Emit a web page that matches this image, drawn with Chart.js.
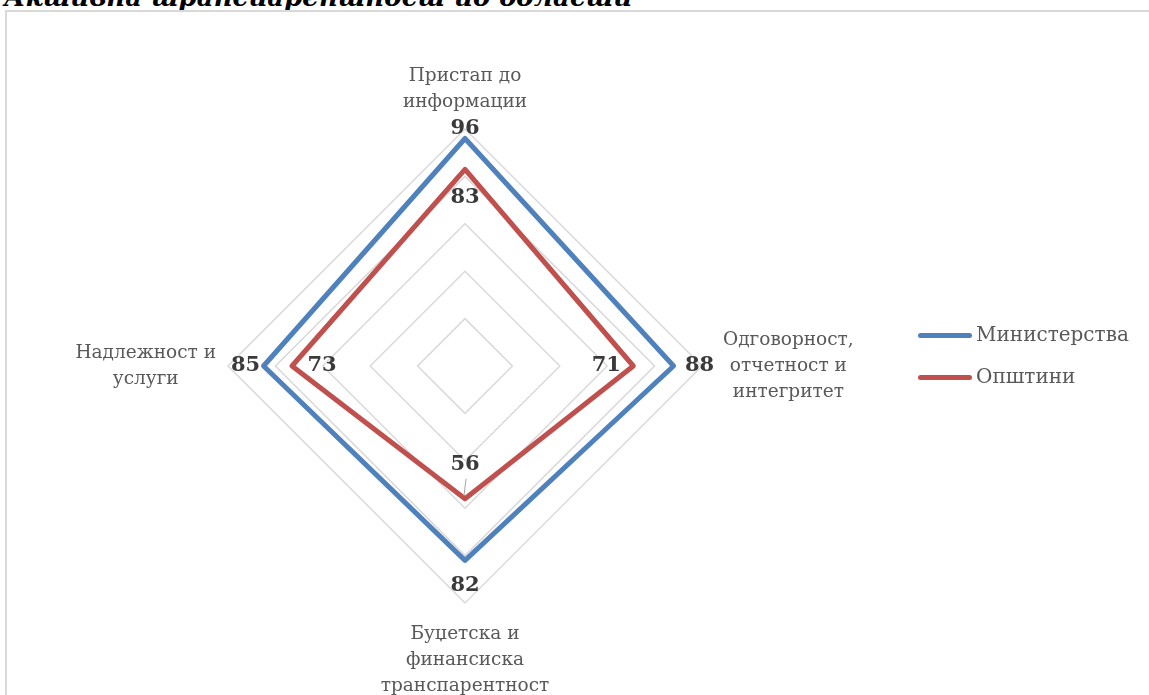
<!DOCTYPE html>
<html lang="mk">
<head>
  <meta charset="UTF-8">
  <title>Активна транспарентност по области</title>
  <script src="https://cdn.jsdelivr.net/npm/chart.js"></script>
  <style>
    body { margin: 0; background: #fff; overflow: hidden; }
    #wrap { position: relative; width: 1149px; height: 695px; }
    #title { position: absolute; left: 4px; top: -16px; font: italic bold 26px/26px "DejaVu Serif", serif; color: #000; white-space: nowrap; }
    #frame { position: absolute; left: 5px; top: 10px; width: 1200px; height: 750px; border: 2px solid #d9d9d9; box-sizing: border-box; }
    #chart { position: absolute; left: 0; top: 0; }
    .leg { position: absolute; left: 918px; font: 20px "DejaVu Serif", serif; color: #595959; }
    .leg span { display: inline-block; width: 54px; height: 5px; border-radius: 3px; vertical-align: middle; margin-right: 4px; }
  </style>
</head>
<body>
<div id="wrap">
  <div id="title">Активна транспарентност по области</div>
  <div id="frame"></div>
  <canvas id="chart" width="1149" height="695"></canvas>
  <div class="leg" style="top:322px"><span style="background:#4f81bd"></span>Министерства</div>
  <div class="leg" style="top:364px"><span style="background:#c0504d"></span>Општини</div>
</div>
<script>
  // податоци
  const categories = [
    ['Пристап до', 'информации'],
    ['Одговорност,', 'отчетност и', 'интегритет'],
    ['Буџетска и', 'финансиска', 'транспарентност'],
    ['Надлежност и', 'услуги']
  ];
  const ministries = [96, 88, 82, 85];
  const municipalities = [83, 71, 56, 73];
  const seriesNames = ['Министерства', 'Општини'];

  // ознаки на оските, центрирани
  const pointLabelPlugin = {
    id: 'pointLabelsCentered',
    afterDraw(chart) {
      const scale = chart.scales.r;
      const ctx = chart.ctx;
      const lh = 26;
      ctx.save();
      ctx.font = '18.5px "DejaVu Serif", serif';
      ctx.fillStyle = '#595959';
      ctx.textAlign = 'center';
      ctx.textBaseline = 'middle';
      categories.forEach((lines, i) => {
        const p = scale.getPointPosition(i, scale.drawingArea + 18);
        const w = Math.max(...lines.map(l => ctx.measureText(l).width));
        const h = lines.length * lh;
        let cx = p.x, cy = p.y;
        if (i === 0) cy = p.y - h / 2 + 4;
        if (i === 2) cy = p.y + h / 2;
        if (i === 1) cx = p.x + w / 2 + 3;
        if (i === 3) cx = p.x - w / 2 + 6;
        lines.forEach((l, k) => {
          ctx.fillText(l, cx, cy - h / 2 + lh / 2 + k * lh);
        });
      });
      ctx.restore();
    }
  };

  // вредности на точките
  const outerOff = [10, 26, 25, 18];
  const innerOff = [28, 27, 34, 30];
  const valueLabelPlugin = {
    id: 'valueLabels',
    afterDatasetsDraw(chart) {
      const scale = chart.scales.r;
      const ctx = chart.ctx;
      ctx.save();
      ctx.font = 'bold 21px "DejaVu Serif", serif';
      ctx.fillStyle = '#3a3a3a';
      ctx.textAlign = 'center';
      ctx.textBaseline = 'middle';
      chart.data.datasets.forEach((ds, d) => {
        ds.data.forEach((v, i) => {
          const off = d === 0 ? outerOff[i] : -innerOff[i];
          const p = scale.getPointPosition(i, scale.getDistanceFromCenterForValue(v) + off);
          ctx.fillText(String(v), p.x, p.y);
          if (d === 1 && i === 2) {
            const a = scale.getPointPosition(i, scale.getDistanceFromCenterForValue(v) - 3);
            const b = scale.getPointPosition(i, scale.getDistanceFromCenterForValue(v) - 20);
            ctx.strokeStyle = '#a6a6a6';
            ctx.lineWidth = 1;
            ctx.beginPath();
            ctx.moveTo(a.x - 1, a.y);
            ctx.lineTo(b.x + 1, b.y);
            ctx.stroke();
          }
        });
      });
      ctx.restore();
    }
  };

  new Chart(document.getElementById('chart').getContext('2d'), {
    type: 'radar',
    data: {
      labels: categories,
      datasets: [
        {
          label: seriesNames[0],
          data: ministries,
          borderColor: '#4f81bd',
          borderWidth: 5,
          borderJoinStyle: 'round',
          backgroundColor: 'transparent',
          fill: false,
          pointRadius: 0
        },
        {
          label: seriesNames[1],
          data: municipalities,
          borderColor: '#c0504d',
          borderWidth: 5,
          borderJoinStyle: 'round',
          backgroundColor: 'transparent',
          fill: false,
          pointRadius: 0
        }
      ]
    },
    options: {
      responsive: false,
      animation: false,
      layout: { padding: { left: 228, right: 447, top: 129, bottom: 92 } },
      plugins: { legend: { display: false }, tooltip: { enabled: false } },
      scales: {
        r: {
          min: 0,
          max: 100,
          ticks: { stepSize: 20, display: false },
          grid: { color: '#d9d9d9', lineWidth: 1.5 },
          angleLines: { display: false },
          pointLabels: { display: false }
        }
      }
    },
    plugins: [pointLabelPlugin, valueLabelPlugin]
  });
</script>
</body>
</html>
